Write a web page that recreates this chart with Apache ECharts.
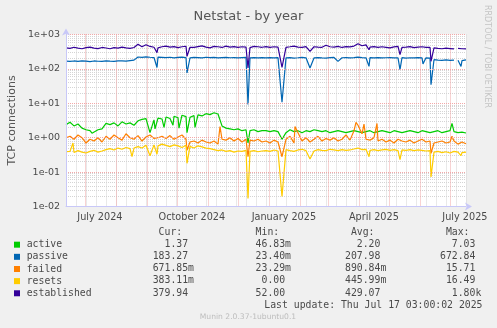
<!DOCTYPE html>
<html>
<head>
<meta charset="utf-8">
<script src="https://cdn.jsdelivr.net/npm/echarts@6/dist/echarts.min.js"></script>
<style>
  html, body { margin: 0; padding: 0; background: #f0f0f0; }
  #chart { width: 497px; height: 328px; }
</style>
</head>
<body>
<div id="chart"></div>
<script>
// Netstat, one year (400 days) ending Jul 17 2025 03:00:02; x is measured in days since the start
const DAY = 86400000;
const startTime = Date.UTC(2024, 5, 12, 3, 0, 2);
const spanDays = 400;
const step = 4; // base samples every 4 days

const seriesNames = ['active', 'passive', 'failed', 'resets', 'established'];
const seriesColors = ['#00CC00', '#0066B3', '#FF8000', '#FFCC00', '#330099'];

// base samples (days 0, 4, ..., 400)
const active = [
  2.4, 2.8, 2.2, 2.5, 1.9, 1.7, 1.6, 1.4, 1.7, 1.8, 2.6, 2.4, 2.7, 2.2, 2.9, 2.5, 2.7, 2.3, 3.1, 3.4, 3.6, 3.3, 3.3, 3.7, 3.5,
  4.0, 3.6, 4.2, 3.8, 4.5, 4.1, 3.9, 4.4, 4.6, 4.3, 5.0, 4.7, 5.3, 4.9, 2.2, 1.9, 1.8, 1.7, 1.8, 1.6, 1.7, 1.6, 1.7, 1.5, 1.6,
  1.6, 1.5, 1.6, 1.5, 1.6, 1.4, 1.7, 1.5, 1.6, 1.4, 1.6, 1.5, 1.7, 1.6, 1.5, 1.6, 1.4, 1.5, 1.6, 1.5, 1.4, 1.5, 1.6, 1.5, 1.4,
  1.5, 1.6, 1.4, 1.5, 1.6, 1.5, 1.4, 1.6, 1.5, 1.4, 1.5, 1.6, 1.5, 1.4, 1.6, 1.5, 1.4, 1.5, 1.6, 1.4, 1.5, 1.6, 1.5, 1.4, 1.45, 1.37
];
const passive = [
  168, 165, 170, 166, 172, 168, 163, 170, 167, 165, 171, 168, 166, 170, 172, 168, 175, 180, 222, 215, 225, 218, 214, 220, 216,
  212, 218, 210, 215, 220, 212, 208, 216, 214, 210, 218, 212, 215, 209, 213, 217, 211, 214, 208, 212, 216, 210, 213, 209, 212,
  210, 214, 208, 212, 215, 209, 213, 207, 211, 216, 210, 212, 208, 214, 210, 207, 212, 215, 209, 211, 213, 208, 212, 220, 214,
  210, 212, 208, 213, 209, 211, 214, 208, 210, 212, 207, 211, 209, 213, 208, 210, 206, 185, 180, 178, 182, 176, 180, 178, 175, 183.27
];
const failed = [
  1.0, 1.1, 0.9, 1.2, 1.0, 0.7, 0.9, 0.8, 1.0, 0.75, 1.1, 0.9, 1.2, 1.0, 0.85, 1.3, 1.0, 0.9, 1.15, 0.8, 1.05, 1.2, 0.95, 1.0, 1.1,
  0.95, 1.15, 0.9, 1.05, 1.2, 0.9, 0.75, 0.8, 0.7, 0.85, 0.75, 0.7, 0.8, 0.65, 0.9, 0.85, 1.0, 0.8, 0.95, 0.75, 0.9, 0.85, 0.8, 0.9, 0.75,
  0.8, 0.7, 0.85, 0.75, 0.8, 0.9, 1.1, 0.7, 1.4, 0.8, 1.0, 0.75, 0.9, 1.1, 0.8, 0.95, 0.85, 1.0, 0.8, 0.9, 1.2, 0.85, 1.6, 2.3, 1.3,
  0.9, 0.85, 1.0, 0.8, 0.9, 0.75, 0.85, 0.7, 0.9, 0.8, 0.75, 0.85, 0.7, 0.8, 0.9, 0.75, 0.8, 0.7, 0.75, 0.8, 0.7, 0.75, 0.8, 0.65, 0.75, 0.67
];
const resets = [
  0.39, 0.4, 0.37, 0.42, 0.38, 0.36, 0.4, 0.43, 0.38, 0.41, 0.45, 0.48, 0.44, 0.5, 0.46, 0.52, 0.48, 0.5, 0.55, 0.5, 0.6, 0.55, 0.62, 0.58, 0.65,
  0.6, 0.55, 0.62, 0.58, 0.52, 0.6, 0.56, 0.5, 0.58, 0.54, 0.5, 0.48, 0.45, 0.42, 0.44, 0.4, 0.42, 0.38, 0.41, 0.4, 0.43, 0.4, 0.42, 0.39, 0.41,
  0.42, 0.4, 0.44, 0.41, 0.43, 0.45, 0.42, 0.4, 0.44, 0.46, 0.42, 0.44, 0.41, 0.45, 0.43, 0.42, 0.46, 0.44, 0.42, 0.45, 0.43, 0.44, 0.47, 0.5, 0.45,
  0.46, 0.43, 0.45, 0.42, 0.44, 0.46, 0.43, 0.45, 0.42, 0.44, 0.43, 0.45, 0.42, 0.44, 0.43, 0.41, 0.42, 0.38, 0.4, 0.37, 0.39, 0.36, 0.4, 0.38, 0.37, 0.383
];
const established = [
  410, 395, 425, 400, 385, 415, 430, 400, 390, 420, 405, 385, 415, 400, 430, 410, 395, 420, 520, 440, 505, 450, 425, 410, 440,
  460, 430, 445, 415, 440, 455, 425, 420, 445, 465, 430, 410, 450, 440, 420, 460, 430, 445, 420, 440, 430, 415, 450, 440, 425,
  445, 420, 440, 430, 455, 425, 440, 460, 430, 420, 445, 435, 440, 430, 425, 485, 440, 430, 450, 420, 445, 435, 460, 540, 470,
  500, 430, 445, 420, 440, 425, 410, 435, 450, 420, 430, 445, 415, 430, 440, 420, 425, 410, 395, 385, 400, 390, 380, 395, 385, 379.94
];

// single-day excursions [day, value]; null marks a missing sample
const activeSpikes = [[26, 1.35], [84, 1.4], [89, 1.8], [98, 2.0], [107, 2.3], [113, 1.9], [121, 1.4], [129, 2.0], [182, 0.7], [216, 0.9], [386, 2.6]];
const passiveSpikes = [[91, 110], [121, 76], [182, 9.3], [216, 10.7], [244, 106], [272, 166], [303, 118], [334, 95], [357, 140], [365, 34.5], [390, null], [395, 118]];
const failedSpikes = [[121, 0.43], [154, 2.1], [182, 0.28], [216, 0.28], [229, 2.1], [290, 2.8], [298, 2.5], [311, 2.6], [365, 0.35], [386, 1.1]];
const resetsSpikes = [[7, 0.7], [66, 0.28], [84, 0.3], [91, 0.33], [121, 0.18], [182, 0.017], [216, 0.0195], [244, 0.24], [303, 0.28], [334, 0.23], [365, 0.072], [395, 0.3]];
const establishedSpikes = [[91, 298], [121, 232], [182, 107], [216, 110], [244, 325], [303, 360], [334, 260], [365, 166], [390, null]];

// axis text
const yTicks = [0.01, 0.1, 1, 10, 100, 1000];
const yTickLabels = ['1e-02', '1e-01', '1e+00', '1e+01', '1e+02', '1e+03'];
const monthLabels = ['July 2024', 'October 2024', 'January 2025', 'April 2025', 'July 2025'];
const monthLabelDates = [Date.UTC(2024, 6, 16), Date.UTC(2024, 9, 16), Date.UTC(2025, 0, 16), Date.UTC(2025, 3, 16), Date.UTC(2025, 6, 16)];

// legend table
const statsHeader = ['Cur:', 'Min:', 'Avg:', 'Max:'];
const statsRows = [
  ['1.37', '46.83m', '2.20', '7.03'],
  ['183.27', '23.40m', '207.98', '672.84'],
  ['671.85m', '23.29m', '890.84m', '15.71'],
  ['383.11m', '0.00', '445.99m', '16.49'],
  ['379.94', '52.00', '429.07', '1.80k']
];
const lastUpdate = 'Last update: Thu Jul 17 03:00:02 2025';
const versionText = 'Munin 2.0.37-1ubuntu0.1';
const sideText = 'RRDTOOL / TOBI OETIKER';

const toDay = t => (t - startTime) / DAY;

function buildData(base, spikes) {
  const byDay = new Map();
  base.forEach((v, i) => byDay.set(i * step, v));
  spikes.forEach(([d, v]) => byDay.set(d, v));
  return [...byDay.keys()].sort((a, b) => a - b).map(d => [d, byDay.get(d)]);
}

const endTime = startTime + spanDays * DAY;

// grid line positions (in days)
const monthStarts = [];
for (let y = 2024, m = 6; ; m++) {
  if (m > 11) { m = 0; y++; }
  const t = Date.UTC(y, m, 1);
  if (t > endTime) break;
  monthStarts.push(toDay(t));
}
const minorDays = [];
for (let t = Date.UTC(2024, 5, 12) + 10 * DAY; t < endTime; t += 10 * DAY) minorDays.push(toDay(t));
const labelDays = monthLabelDates.map(toDay);
const yMinor = [];
for (let e = -2; e < 3; e++) for (let k = 2; k <= 9; k++) yMinor.push(k * Math.pow(10, e));

const FONT = 'DejaVu Sans';
const MONO = 'DejaVu Sans Mono';
const TXT = '#4a4a4a';

const allData = [
  buildData(active, activeSpikes),
  buildData(passive, passiveSpikes),
  buildData(failed, failedSpikes),
  buildData(resets, resetsSpikes),
  buildData(established, establishedSpikes)
];

function fmtCell(s) {
  const m = s.match(/^([\d.]+)([a-zA-Z]?)$/);
  return m[1].padStart(6, ' ') + (m[2] || ' ');
}

const colX = [152.7, 249.7, 345, 440];
const rowY0 = 232.3, rowH = 12.15;
const graphics = [];
statsHeader.forEach((h, c) => {
  graphics.push({ type: 'text', x: colX[c], y: rowY0, style: { text: ' ' + h, font: '9.8px "' + MONO + '"', fill: TXT, verticalAlign: 'middle' } });
});
statsRows.forEach((row, r) => {
  row.forEach((cell, c) => {
    graphics.push({ type: 'text', x: colX[c], y: rowY0 + (r + 1) * rowH, style: { text: fmtCell(cell), font: '9.8px "' + MONO + '"', fill: TXT, verticalAlign: 'middle' } });
  });
});
graphics.push({ type: 'text', x: 482.5, y: rowY0 + 6 * rowH, style: { text: lastUpdate, font: '9.8px "' + MONO + '"', fill: TXT, align: 'right', verticalAlign: 'middle' } });
graphics.push({ type: 'text', x: 248, y: 317, style: { text: versionText, font: '7.6px "' + FONT + '"', fill: '#bdbdbd', align: 'center', verticalAlign: 'middle' } });
graphics.push({ type: 'text', x: 487, y: 5, rotation: -Math.PI / 2, style: { text: sideText, font: '8px "' + FONT + '"', fill: '#c4c4c4', align: 'left', verticalAlign: 'middle' } });

function gridAxisX(values, color, z) {
  return {
    type: 'value', min: 0, max: spanDays, z,
    axisLine: { show: false }, axisLabel: { show: false },
    axisTick: { show: false, customValues: values },
    splitLine: { show: true, lineStyle: { color, type: [1, 1], width: 1 } }
  };
}
function gridAxisY(values, color, z) {
  return {
    type: 'log', logBase: 10, min: 0.01, max: 1000, z, position: 'left',
    axisLine: { show: false }, axisLabel: { show: false },
    axisTick: { show: false, customValues: values },
    splitLine: { show: true, lineStyle: { color, type: [1, 1], width: 1 } }
  };
}

const chart = echarts.init(document.getElementById('chart'), null, { renderer: 'canvas' });
chart.setOption({
  animation: false,
  backgroundColor: '#f0f0f0',
  title: {
    text: 'Netstat - by year', left: 'center', top: 5,
    textStyle: { fontFamily: FONT, fontSize: 13, fontWeight: 'normal', color: '#555' }
  },
  grid: { left: 66, right: 31, top: 34.5, bottom: 121.5, show: true, backgroundColor: '#ffffff', borderWidth: 0, outerBoundsMode: 'none' },
  legend: {
    orient: 'vertical', left: 14, top: 238.6, padding: 0, itemWidth: 6, itemHeight: 6, itemGap: 0,
    icon: 'rect', selectedMode: false,
    textStyle: { fontFamily: MONO, fontSize: 9.8, lineHeight: 12.15, color: TXT, padding: [0, 0, 0, 1.7] },
    data: seriesNames
  },
  xAxis: [
    {
      type: 'value', min: 0, max: spanDays, z: 3,
      axisLine: { show: true, lineStyle: { color: '#c8c8f8', width: 1 }, symbol: ['none', 'arrow'], symbolSize: [6, 7], symbolOffset: [0, 6] },
      axisTick: { show: false, customValues: labelDays },
      axisLabel: {
        customValues: labelDays, margin: 6, color: TXT, fontFamily: FONT, fontSize: 9.7,
        formatter: v => {
          let best = 0;
          labelDays.forEach((d, i) => { if (Math.abs(d - v) < Math.abs(labelDays[best] - v)) best = i; });
          return monthLabels[best];
        }
      },
      splitLine: { show: false }
    },
    gridAxisX(minorDays, '#d4d4d4', 0),
    gridAxisX(monthStarts, '#f2a8a8', 1)
  ],
  yAxis: [
    {
      type: 'log', logBase: 10, min: 0.01, max: 1000, z: 3,
      name: 'TCP connections', nameLocation: 'middle', nameGap: 47,
      nameTextStyle: { fontFamily: FONT, fontSize: 11, color: '#555' },
      axisLine: { show: true, lineStyle: { color: '#c8c8f8', width: 1 }, symbol: ['none', 'arrow'], symbolSize: [6, 7], symbolOffset: [0, 6] },
      axisTick: { show: false, customValues: yTicks },
      axisLabel: {
        customValues: yTicks, margin: 6, color: TXT, fontFamily: FONT, fontSize: 9.5,
        formatter: v => {
          let best = 0;
          yTicks.forEach((t, i) => { if (Math.abs(Math.log10(t) - Math.log10(v)) < Math.abs(Math.log10(yTicks[best]) - Math.log10(v))) best = i; });
          return yTickLabels[best];
        }
      },
      splitLine: { show: true, lineStyle: { color: '#f2a8a8', type: [1, 1], width: 1 } }
    },
    gridAxisY(yMinor, '#d4d4d4', 0)
  ],
  series: seriesNames.map((name, i) => ({
    name, type: 'line', xAxisIndex: 0, yAxisIndex: 0,
    data: allData[i], showSymbol: false, symbol: 'none',
    connectNulls: false, z: 2,
    color: seriesColors[i],
    lineStyle: { color: seriesColors[i], width: 1.2 },
    itemStyle: { color: seriesColors[i] },
    emphasis: { disabled: true }
  })),
  graphic: graphics
});
</script>
</body>
</html>
